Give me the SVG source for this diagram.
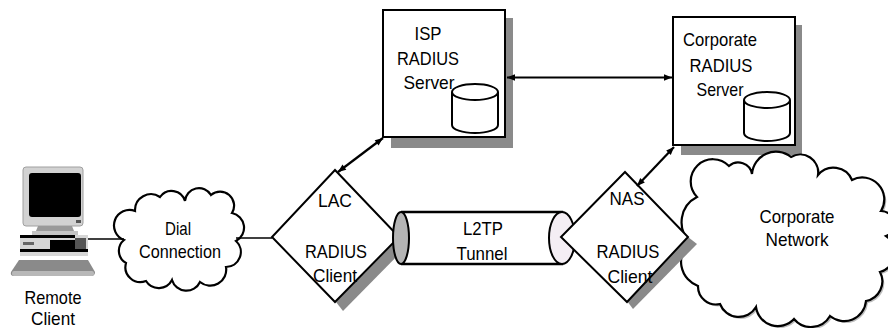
<svg xmlns="http://www.w3.org/2000/svg" width="888" height="328" viewBox="0 0 888 328">
  <style>
    .t { font-family: "Liberation Sans", Arial, sans-serif; font-size: 19px; text-anchor: middle; fill: #000; }
    .ol { fill: #fff; stroke: #000; stroke-width: 2; }
    .shadow { fill: #8a8a8a; stroke: none; }
    .conn { fill: none; stroke: #000; stroke-width: 1.6; }
    .arr { fill: none; stroke: #000; stroke-width: 2.2; marker-start: url(#head); marker-end: url(#head); }
  </style>
  <defs>
    <marker id="head" viewBox="0 0 10 10" refX="10" refY="5" markerWidth="10" markerHeight="8" markerUnits="userSpaceOnUse" orient="auto-start-reverse">
      <path d="M0,1 L10,5 L0,9 z" fill="#000"/>
    </marker>
    <g id="db">
      <path d="M0,0 L0,33 A23,8 0 0 0 46,33 L46,0" fill="#fff" stroke="#000" stroke-width="2"/>
      <ellipse cx="23" cy="0" rx="23" ry="8" fill="#fff" stroke="#000" stroke-width="2"/>
    </g>
  </defs>
  <rect width="888" height="328" fill="#fff"/>

  <!-- Remote client workstation -->
  <g id="remote-client">
    <rect x="23" y="167" width="60" height="59" rx="3" fill="#d2d2d2" stroke="#a0a0a0" stroke-width="1"/>
    <rect x="29" y="173" width="52" height="44" rx="3" fill="#000"/>
    <rect x="76" y="220" width="5" height="3" fill="#555"/>
    <path d="M38,226 L72,226 L74,231 L36,231 z" fill="#9a9a9a"/>
    <rect x="32" y="231" width="46" height="4" fill="#c4c4c4"/>
    <rect x="20" y="235" width="68" height="21" fill="#d6d6d6"/>
    <rect x="20" y="235" width="55" height="3" fill="#000"/>
    <rect x="23" y="242" width="11" height="3" fill="#666"/>
    <rect x="50" y="240" width="25" height="9" fill="#000"/>
    <rect x="75" y="238" width="11" height="13" fill="#555"/>
    <rect x="20" y="249" width="68" height="3" fill="#000"/>
    <path d="M19,260 L88,260 L95,272 Q95,276 91,276 L14,276 Q10,276 11,272 z" fill="#8a8a8a"/>
    <rect x="12" y="271" width="82" height="5" rx="2" fill="#b8b8b8"/>
    <text class="t" x="53" y="304" textLength="57" lengthAdjust="spacingAndGlyphs">Remote</text>
    <text class="t" x="53" y="325" textLength="44" lengthAdjust="spacingAndGlyphs">Client</text>
  </g>

  <!-- Dial-up cloud -->
  <g id="dial-connection">
    <path d="M124,240 A15,15 0 0 1 135,211 A16,16 0 0 1 160,197 A14,14 0 0 1 185,201 A14,14 0 0 1 211,195 A14,14 0 0 1 232,213 A15,15 0 0 1 236,241 A15,15 0 0 1 226,267 A16,16 0 0 1 200,282 A15,15 0 0 1 172,280 A15,15 0 0 1 146,281 A15,15 0 0 1 126,263 A14,14 0 0 1 124,240 z" fill="#fff" stroke="#000" stroke-width="2.2"/>
    <text class="t" x="178" y="235" textLength="26" lengthAdjust="spacingAndGlyphs">Dial</text>
    <text class="t" x="180" y="258" textLength="82" lengthAdjust="spacingAndGlyphs">Connection</text>
  </g>

  <!-- ISP RADIUS server -->
  <g id="isp-radius-server">
    <rect class="shadow" x="391" y="18" width="122" height="130"/>
    <rect class="ol" x="383" y="10" width="122" height="127"/>
    <text class="t" x="428" y="40" textLength="27" lengthAdjust="spacingAndGlyphs">ISP</text>
    <text class="t" x="428" y="65" textLength="62" lengthAdjust="spacingAndGlyphs">RADIUS</text>
    <text class="t" x="429" y="89" textLength="51" lengthAdjust="spacingAndGlyphs">Server</text>
    <use href="#db" x="452" y="92"/>
  </g>

  <!-- Corporate RADIUS server -->
  <g id="corporate-radius-server">
    <rect class="shadow" x="681" y="25" width="121" height="130"/>
    <rect class="ol" x="673" y="17" width="122" height="128"/>
    <text class="t" x="720" y="46" textLength="74" lengthAdjust="spacingAndGlyphs">Corporate</text>
    <text class="t" x="721" y="72" textLength="63" lengthAdjust="spacingAndGlyphs">RADIUS</text>
    <text class="t" x="720" y="96" textLength="47" lengthAdjust="spacingAndGlyphs">Server</text>
    <use href="#db" x="744" y="100"/>
  </g>

  <!-- Corporate network cloud -->
  <g id="corporate-network">
    <path d="M690,242 A28,28 0 0 1 697,197 A22,22 0 0 1 729,166 A14,14 0 0 1 752,174 A24,24 0 0 1 791,157 A18,18 0 0 1 818,175 A20,20 0 0 1 852,180 A22,22 0 0 1 881,211 A13,13 0 0 1 886,236 A20,20 0 0 1 880,272 A20,20 0 0 1 866,301 A22,22 0 0 1 830,316 A22,22 0 0 1 794,319 A22,22 0 0 1 756,307 A20,20 0 0 1 720,304 A18,18 0 0 1 698,286 A26,26 0 0 1 690,242 z" fill="#bdbdbd" transform="translate(2,2)"/>
    <path d="M690,242 A28,28 0 0 1 697,197 A22,22 0 0 1 729,166 A14,14 0 0 1 752,174 A24,24 0 0 1 791,157 A18,18 0 0 1 818,175 A20,20 0 0 1 852,180 A22,22 0 0 1 881,211 A13,13 0 0 1 886,236 A20,20 0 0 1 880,272 A20,20 0 0 1 866,301 A22,22 0 0 1 830,316 A22,22 0 0 1 794,319 A22,22 0 0 1 756,307 A20,20 0 0 1 720,304 A18,18 0 0 1 698,286 A26,26 0 0 1 690,242 z" fill="#fff" stroke="#000" stroke-width="2.2"/>
    <text class="t" x="797" y="223" textLength="75" lengthAdjust="spacingAndGlyphs">Corporate</text>
    <text class="t" x="797" y="246" textLength="63" lengthAdjust="spacingAndGlyphs">Network</text>
  </g>

  <!-- LAC / RADIUS client -->
  <g id="lac">
    <path class="shadow" d="M399,238 L336,302 L343,311 L408,245 z"/>
    <path class="ol" d="M335,170 L399,237 L335,302 L272,237 z"/>
    <text class="t" x="335" y="207" textLength="34" lengthAdjust="spacingAndGlyphs">LAC</text>
    <text class="t" x="336" y="258" textLength="62" lengthAdjust="spacingAndGlyphs">RADIUS</text>
    <text class="t" x="335" y="282" textLength="44" lengthAdjust="spacingAndGlyphs">Client</text>
  </g>

  <!-- L2TP tunnel -->
  <g id="l2tp-tunnel">
    <path d="M401,212 L562,212 L562,264 L401,264" fill="#fff" stroke="#000" stroke-width="2.4"/>
    <ellipse cx="562" cy="238" rx="13" ry="26" fill="#f4eef4" stroke="#000" stroke-width="2"/>
    <ellipse cx="401" cy="238" rx="8" ry="26" fill="#b4b4b4" stroke="#000" stroke-width="2"/>
    <text class="t" x="483" y="235" textLength="40" lengthAdjust="spacingAndGlyphs">L2TP</text>
    <text class="t" x="482" y="260" textLength="51" lengthAdjust="spacingAndGlyphs">Tunnel</text>
  </g>

  <!-- NAS / RADIUS client -->
  <g id="nas">
    <path class="shadow" d="M688,237 L627,301 L633,309 L697,244 z"/>
    <path class="ol" d="M625,172 L688,237 L627,302 L561,237 z"/>
    <text class="t" x="627" y="205" textLength="35" lengthAdjust="spacingAndGlyphs">NAS</text>
    <text class="t" x="628" y="258" textLength="63" lengthAdjust="spacingAndGlyphs">RADIUS</text>
    <text class="t" x="630" y="283" textLength="45" lengthAdjust="spacingAndGlyphs">Client</text>
  </g>

  <!-- Connectors -->
  <g id="connectors">
    <line class="conn" x1="88" y1="239" x2="124" y2="239"/>
    <line class="conn" x1="236" y1="238" x2="272" y2="238"/>
    <line class="arr" x1="507" y1="77.5" x2="672" y2="77.5"/>
    <line class="arr" x1="338" y1="172" x2="383" y2="138"/>
    <line class="arr" x1="637" y1="186" x2="674" y2="147"/>
  </g>
</svg>
